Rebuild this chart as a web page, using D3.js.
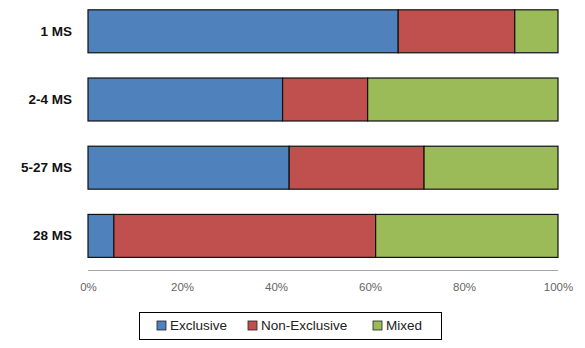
<!DOCTYPE html>
<html><head><meta charset="utf-8">
<script src="https://cdn.jsdelivr.net/npm/d3@7"></script>
<style>body{margin:0;background:#fff}svg{display:block}</style>
</head><body>
<script>
const categories = ["1 MS", "2-4 MS", "5-27 MS", "28 MS"];
const seriesNames = ["Exclusive", "Non-Exclusive", "Mixed"];
const exclusive = [66.0, 41.4, 42.8, 5.5];
const nonExclusive = [24.8, 18.1, 28.7, 55.7];
const mixed = [9.2, 40.5, 28.5, 38.8];
const tickValues = [0, 20, 40, 60, 80, 100];
const colors = ["#4F81BD", "#C0504D", "#9BBB59"];

const W = 585, H = 348;
const svg = d3.select("body").append("svg").attr("width", W).attr("height", H);

const rows = categories.map((c, i) => ({cat: c, Exclusive: exclusive[i], "Non-Exclusive": nonExclusive[i], Mixed: mixed[i]}));
const stack = d3.stack().keys(seriesNames)(rows);

const x = d3.scaleLinear().domain([0, 100]).range([88, 558]);
const y = d3.scaleBand().domain(categories).range([-2.8, 270]).paddingInner(0.37).paddingOuter(0.185);
const color = d3.scaleOrdinal().domain(seriesNames).range(colors);

svg.append("g").selectAll("g").data(stack).join("g")
  .attr("fill", d => color(d.key))
  .selectAll("rect").data(d => d).join("rect")
  .attr("x", d => x(d[0]) )
  .attr("y", d => y(d.data.cat))
  .attr("width", d => x(d[1]) - x(d[0]))
  .attr("height", y.bandwidth())
  .attr("stroke", "#111")
  .attr("stroke-width", 1.2);

// axis line
svg.append("line").attr("x1", x(0)).attr("x2", x(100)).attr("y1", 270.5).attr("y2", 270.5)
  .attr("stroke", "#A6A6A6").attr("stroke-width", 1.2);

const xAxis = d3.axisBottom(x).tickValues(tickValues).tickFormat(d => d + "%").tickSize(0).tickPadding(0);
const gx = svg.append("g").attr("transform", "translate(0,283)").call(xAxis);
gx.select(".domain").remove();
gx.selectAll("text").attr("fill", "#666").attr("font-family", "'Liberation Sans', Arial, sans-serif").attr("font-size", 11.5).attr("dy", "0.71em").attr("y", 0);

const yAxis = d3.axisLeft(y).tickSize(0).tickPadding(0);
const gy = svg.append("g").attr("transform", "translate(72,0)").call(yAxis);
gy.select(".domain").remove();
gy.selectAll("text").attr("fill", "#111").attr("font-family", "'Liberation Sans', Arial, sans-serif").attr("font-size", 13.5).attr("font-weight", "bold");

// legend
const lg = svg.append("g");
lg.append("rect").attr("x", 139.5).attr("y", 312.5).attr("width", 302).attr("height", 27)
  .attr("fill", "#fff").attr("stroke", "#000").attr("stroke-width", 1);
const legX = [157, 248, 373];
seriesNames.forEach((s, i) => {
  lg.append("rect").attr("x", legX[i]).attr("y", 321).attr("width", 9).attr("height", 9)
    .attr("fill", color(s)).attr("stroke", "#222").attr("stroke-width", 0.8);
  lg.append("text").attr("x", legX[i] + 13).attr("y", 325.5).attr("dy", "0.35em")
    .attr("font-family", "'Liberation Sans', Arial, sans-serif").attr("font-size", 13.5).attr("fill", "#222").text(s);
});
</script>
</body></html>
